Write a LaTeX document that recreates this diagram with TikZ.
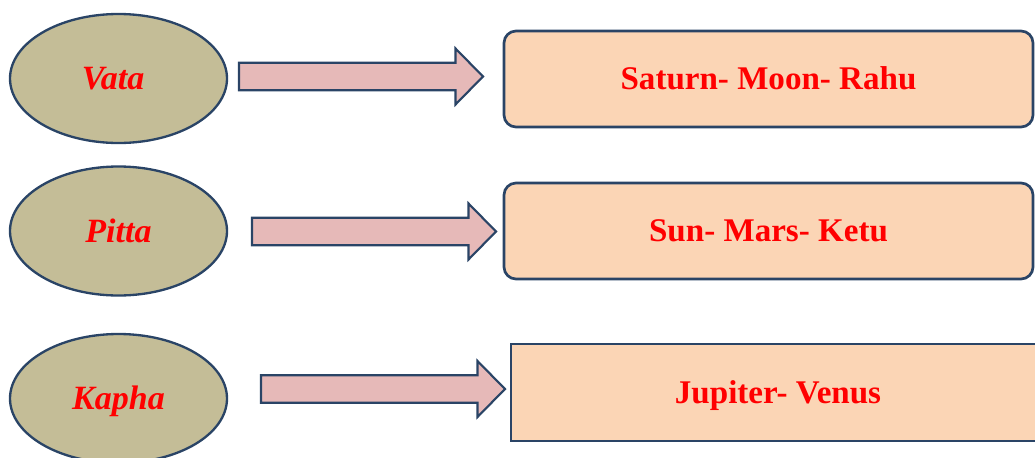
\documentclass[tikz,border=0pt]{standalone}
\usepackage{fontspec}
\setmainfont{Liberation Serif}
\usetikzlibrary{shapes.geometric,calc}

\definecolor{edgeblue}{HTML}{2A4466}
\definecolor{doshafill}{HTML}{C4BD97}
\definecolor{arrowfill}{HTML}{E6B9B8}
\definecolor{planetfill}{HTML}{FBD5B5}
\definecolor{labelred}{HTML}{FF0000}

% block arrow from a tail coordinate to a tip coordinate (same height)
\newcommand\blockarrow[2]{%
  \draw[fatarrow] ($(#1)+(0,-13.75)$) -- ($(#2)+(-27.5,-13.75)$)
    -- ($(#2)+(-27.5,-28)$) -- (#2) -- ($(#2)+(-27.5,28)$)
    -- ($(#2)+(-27.5,13.75)$) -- ($(#1)+(0,13.75)$) -- cycle;}

\begin{document}
\begin{tikzpicture}[x=0.75pt,y=-0.75pt,
  dosha/.style={ellipse, draw=edgeblue, line width=1.75pt, fill=doshafill,
    minimum width=162.75pt, minimum height=96.75pt, inner sep=0pt,
    font=\fontsize{25.5}{30}\selectfont\bfseries\itshape, text=labelred,
    text height=16.9pt, text depth=0pt},
  planets/.style={rectangle, rounded corners=9pt, draw=edgeblue, line width=2pt,
    fill=planetfill, minimum width=396.75pt, minimum height=72pt, inner sep=0pt,
    font=\fontsize{24.8}{30}\selectfont\bfseries, text=labelred,
    text height=16.4pt, text depth=0pt},
  fatarrow/.style={draw=edgeblue, line width=1.6pt, fill=arrowfill, line join=miter}]

\path[use as bounding box] (0,0) rectangle (1035,457);
\clip (0,0) rectangle (1035,457);

% doshas
\node[dosha] (vata)  at (118.5,78.5) {Vata\hspace*{8pt}};
\node[dosha] (pitta) at (118.5,231)  {Pitta};
\node[dosha] (kapha) at (118.5,398.5) {Kapha};

% ruling planets
\node[planets] (p1) at (768.5,79)  {Saturn- Moon- Rahu};
\node[planets] (p2) at (768.5,231) {Sun- Mars- Ketu};
\node[planets, sharp corners, line width=2.2pt, minimum width=400.5pt,
      minimum height=72.75pt] (p3) at (778,392.5) {Jupiter- Venus};

% arrow ends
\coordinate (a1tail) at (239,76.5);
\coordinate (a1tip)  at (483,76.5);
\coordinate (a2tail) at (252,231.5);
\coordinate (a2tip)  at (496,231.5);
\coordinate (a3tail) at (261,389);
\coordinate (a3tip)  at (505,389);

\blockarrow{a1tail}{a1tip}
\blockarrow{a2tail}{a2tip}
\blockarrow{a3tail}{a3tip}

\end{tikzpicture}
\end{document}
